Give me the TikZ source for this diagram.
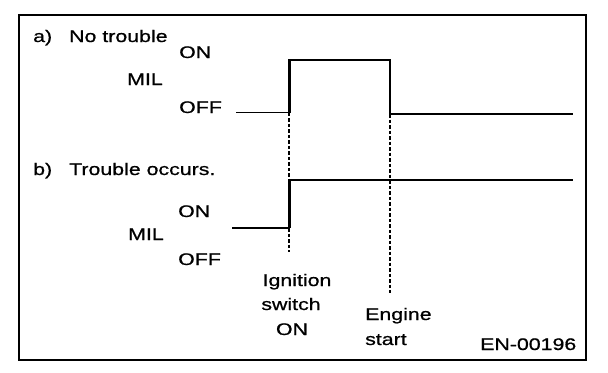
\documentclass[tikz,border=0pt]{standalone}
\usepackage{fontspec}
\setmainfont{Liberation Sans}[FakeStretch=1.27,FakeBold=0.8]
\begin{document}
\begin{tikzpicture}[x=1bp,y=-1bp,
  lbl/.style={anchor=base west, inner sep=0pt, font=\fontsize{16.8bp}{20bp}\selectfont},
  lblc/.style={lbl, anchor=base},
  sig/.style={line width=2bp, line join=miter},
  sigthin/.style={line width=1bp},
  rise/.style={line width=3bp},
  guide/.style={line width=2.4bp, dash pattern=on 3.5bp off 2bp},
  framebox/.style={draw, line width=1.6bp, inner sep=0pt, anchor=north west}]
\useasboundingbox (0,0) rectangle (608,372);
\node[framebox, minimum width=567bp, minimum height=345bp] (frame) at (18,14) {};

% coordinates of trace a)
\coordinate (a0) at (236,112.5);
\coordinate (a1) at (289,112.5);
\coordinate (a2) at (289,60);
\coordinate (a3) at (390,60);
\coordinate (a4) at (390,114);
\coordinate (a5) at (573,114);
% coordinates of trace b)
\coordinate (b0) at (232,228);
\coordinate (b1) at (289,228);
\coordinate (b2) at (289,180);
\coordinate (b3) at (573,180);
% guide ends
\coordinate (gi) at (289,252);
\coordinate (ge) at (390,293);

% guides
\draw[guide] (a1) -- (gi);
\draw[guide] (a4) -- (ge);

% trace a)
\draw[sigthin] (a0) -- (a1);
\draw[sig] (a1) -- (a2) -- (a3) -- (a4) -- (a5);
\draw[rise] (a1) -- (a2);
% trace b)
\draw[sig] (b0) -- (b1) -- (b2) -- (b3);
\draw[rise] (b1) -- (b2);

% labels
\node[lbl] (ta) at (33,42) {a)\hspace{17bp}No trouble};
\node[lbl] (aon) at (179,58) {ON};
\node[lbl] (amil) at (127,85) {MIL};
\node[lbl] (aoff) at (179,113) {OFF};

\node[lbl] (tb) at (33,175) {b)\hspace{17bp}Trouble occurs.};
\node[lbl] (bon) at (178,217) {ON};
\node[lbl] (bmil) at (128,240) {MIL};
\node[lbl] (boff) at (178,265) {OFF};

\node[lblc] (ig1) at (297,286) {Ignition};
\node[lblc] (ig2) at (291,310) {switch};
\node[lblc] (ig3) at (292,335) {ON};

\node[lbl] (en1) at (365,320) {Engine};
\node[lbl] (en2) at (365,345) {start};

\node[lbl] (code) at (480,350) {EN-00196};
\end{tikzpicture}
\end{document}
